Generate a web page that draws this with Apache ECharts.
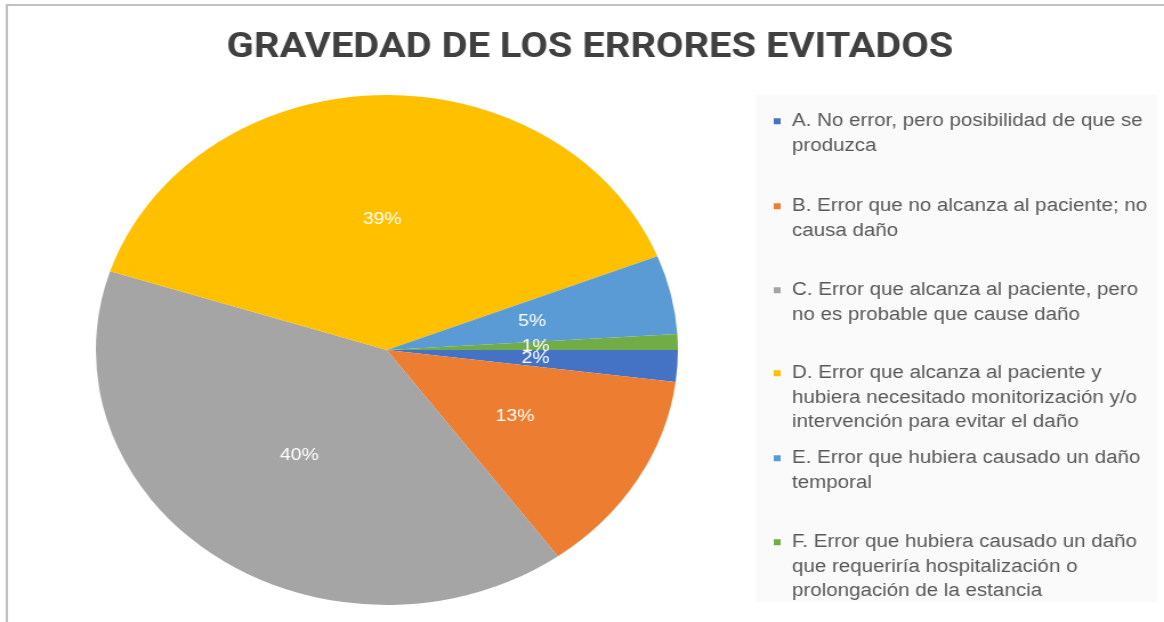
<!DOCTYPE html>
<html>
<head>
<meta charset="utf-8">
<title>Gravedad de los errores evitados</title>
<script src="https://cdn.jsdelivr.net/npm/echarts@6/dist/echarts.min.js"></script>
<style>
  html, body { margin: 0; padding: 0; background: #fff; overflow: hidden; }
  /* the source picture is stretched sideways, so draw narrower and stretch */
  #pie-chart { width: 1020px; height: 622px; transform: scaleX(1.1412); transform-origin: 0 0; }
</style>
</head>
<body>
<div id="pie-chart"></div>
<script>
// legend labels, one entry per line as they wrap in the picture
const labelLines = [
  ['A. No error, pero posibilidad de que se', 'produzca'],
  ['B. Error que no alcanza al paciente; no', 'causa daño'],
  ['C. Error que alcanza al paciente, pero', 'no es probable que cause daño'],
  ['D. Error que alcanza al paciente y', 'hubiera necesitado monitorización y/o', 'intervención para evitar el daño'],
  ['E. Error que hubiera causado un daño', 'temporal'],
  ['F. Error que hubiera causado un daño', 'que requeriría hospitalización o', 'prolongación de la estancia']
]
const categories = labelLines.map(l => l.join(' '))
const percentValues = [2, 13, 40, 39, 5, 1]
const colors = ['#4472C4', '#ED7D31', '#A5A5A5', '#FFC000', '#5B9BD5', '#70AD47']

const font = '"Liberation Sans", Arial, sans-serif'
const legendTops = [104, 189, 273, 356, 441, 525]

const legends = categories.map((name, i) => ({
  data: [name],
  left: 668,
  top: legendTops[i],
  orient: 'vertical',
  icon: 'none',
  itemWidth: 0,
  itemHeight: 0,
  selectedMode: false,
  formatter: () => labelLines[i]
    .map((line, j) => (j === 0 ? '{sq|}{gap|}' : '{ind|}') + '{t|' + line + '}')
    .join('\n'),
  textStyle: {
    color: '#595959',
    fontSize: 18,
    fontFamily: font,
    lineHeight: 24.5,
    rich: {
      sq: { width: 6, height: 6, backgroundColor: colors[i] },
      gap: { width: 10 },
      ind: { width: 16 },
      t: { color: '#595959', fontSize: 18, fontFamily: font, lineHeight: 24.5 }
    }
  }
}))

const option = {
  backgroundColor: '#fff',
  title: {
    text: 'GRAVEDAD DE LOS ERRORES EVITADOS',
    left: 517,
    textAlign: 'center',
    top: 31,
    padding: 0,
    textStyle: {
      color: '#404040',
      fontSize: 35,
      fontWeight: 'bold',
      fontFamily: 'Roboto, "Liberation Sans", sans-serif'
    }
  },
  graphic: [
    { type: 'rect', z: 0, shape: { x: 662, y: 95, width: 352, height: 507 }, style: { fill: '#fafafa' } },
    { type: 'rect', z: 0, shape: { x: 5, y: 4, width: 1020, height: 2 }, style: { fill: '#c0c0c0' } },
    { type: 'rect', z: 0, shape: { x: 5, y: 4, width: 2, height: 620 }, style: { fill: '#c0c0c0' } }
  ],
  legend: legends,
  series: [
    {
      type: 'pie',
      center: [339, 350],
      radius: 255,
      startAngle: 0,
      clockwise: true,
      silent: true,
      avoidLabelOverlap: false,
      minShowLabelAngle: 0,
      color: colors,
      itemStyle: { borderWidth: 0 },
      label: {
        show: true,
        position: 'inside',
        formatter: '{c}%',
        color: '#fff',
        fontSize: 17,
        fontFamily: font
      },
      labelLayout: { hideOverlap: false },
      labelLine: { show: false },
      data: categories.map((name, i) => ({ name, value: percentValues[i] }))
    }
  ]
}

const myChart = echarts.init(document.getElementById('pie-chart'))
myChart.setOption(option)
</script>
</body>
</html>
